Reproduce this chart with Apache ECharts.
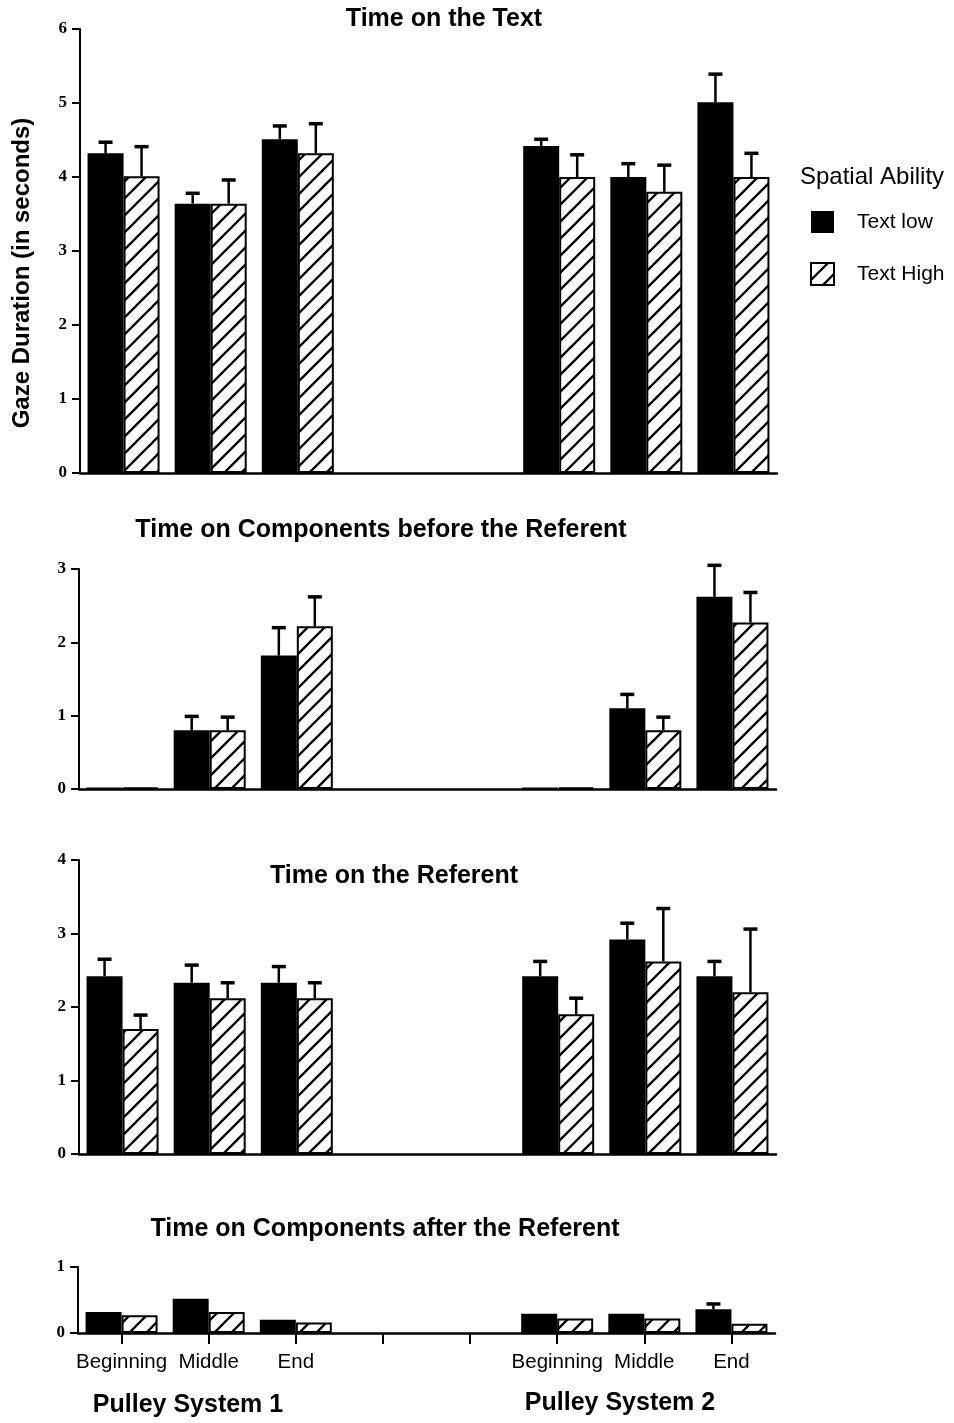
<!DOCTYPE html>
<html>
<head>
<meta charset="utf-8">
<script src="https://cdn.jsdelivr.net/npm/echarts@6/dist/echarts.min.js"></script>
<style>
  html, body { margin: 0; padding: 0; background: #fff; }
  #chart { width: 954px; height: 1423px; }
</style>
</head>
<body>
<div id="chart"></div>
<script>
// Positions along the axis: three text positions for each pulley system, two empty slots between
const categories = ['Beginning', 'Middle', 'End', '', ' ', 'Beginning', 'Middle', 'End'];
const seriesNames = ['Text low', 'Text High'];
const panelTitles = [
  'Time on the Text',
  'Time on Components before the Referent',
  'Time on the Referent',
  'Time on Components after the Referent'
];
const yMax = [6, 3, 4, 1];

// Time on the Text
const textLow      = [4.32, 3.64, 4.51, null, null, 4.42, 4.00, 5.01];
const textLowErr   = [0.15, 0.14, 0.18, null, null, 0.09, 0.18, 0.38];
const textHigh     = [4.01, 3.64, 4.32, null, null, 4.00, 3.80, 4.00];
const textHighErr  = [0.40, 0.32, 0.40, null, null, 0.30, 0.36, 0.32];

// Time on Components before the Referent
const beforeLow     = [0.02, 0.80, 1.82, null, null, 0.02, 1.10, 2.62];
const beforeLowErr  = [0,    0.19, 0.38, null, null, 0,    0.19, 0.43];
const beforeHigh    = [0.02, 0.80, 2.22, null, null, 0.02, 0.80, 2.27];
const beforeHighErr = [0,    0.18, 0.40, null, null, 0,    0.18, 0.41];

// Time on the Referent
const refLow      = [2.42, 2.33, 2.33, null, null, 2.42, 2.92, 2.42];
const refLowErr   = [0.23, 0.24, 0.22, null, null, 0.20, 0.22, 0.20];
const refHigh     = [1.70, 2.12, 2.12, null, null, 1.90, 2.62, 2.20];
const refHighErr  = [0.19, 0.21, 0.21, null, null, 0.22, 0.72, 0.86];

// Time on Components after the Referent
const afterLow     = [0.32, 0.52, 0.20, null, null, 0.29, 0.29, 0.36];
const afterLowErr  = [0,    0,    0,    null, null, 0,    0,    0.08];
const afterHigh    = [0.27, 0.32, 0.16, null, null, 0.22, 0.22, 0.14];
const afterHighErr = [0,    0,    0,    null, null, 0,    0,    0];

const panels = [
  { low: textLow,   lowErr: textLowErr,   high: textHigh,   highErr: textHighErr },
  { low: beforeLow, lowErr: beforeLowErr, high: beforeHigh, highErr: beforeHighErr },
  { low: refLow,    lowErr: refLowErr,    high: refHigh,    highErr: refHighErr },
  { low: afterLow,  lowErr: afterLowErr,  high: afterHigh,  highErr: afterHighErr }
];

// Layout of the four stacked plots
const grids = [
  { left: 80, top: 29,   width: 697, height: 444 },
  { left: 79, top: 569,  width: 697, height: 220 },
  { left: 79, top: 860,  width: 697, height: 294 },
  { left: 78, top: 1267, width: 697, height: 66 }
];
const BAR_W = 36;
const CAP_W = 14;
const SANS = '"Liberation Sans", Arial, Helvetica, sans-serif';
const SERIF = '"Liberation Serif", "Times New Roman", serif';

// Diagonal hatching used for the high-ability bars
function makeHatch() {
  const s = 17;
  const c = document.createElement('canvas');
  c.width = s; c.height = s;
  const g = c.getContext('2d');
  g.fillStyle = '#fff';
  g.fillRect(0, 0, s, s);
  g.strokeStyle = '#000';
  g.lineWidth = 2.3;
  g.beginPath();
  g.moveTo(-2, s + 2); g.lineTo(s + 2, -2);
  g.moveTo(-2, 2); g.lineTo(2, -2);
  g.moveTo(s - 2, s + 2); g.lineTo(s + 2, s - 2);
  g.stroke();
  return c;
}
const hatchFill = { image: makeHatch(), repeat: 'repeat' };

function errorBars(axisIdx, vals, errs, side) {
  return {
    type: 'custom',
    xAxisIndex: axisIdx,
    yAxisIndex: axisIdx,
    z: 5,
    silent: true,
    data: vals.map((v, i) => [i, v, errs[i]]).filter(d => d[1] != null && d[2] > 0),
    renderItem: function (params, api) {
      const base = api.coord([api.value(0), api.value(1)]);
      const top = api.coord([api.value(0), api.value(1) + api.value(2)]);
      const x = base[0] + side * BAR_W / 2;
      return {
        type: 'group',
        children: [
          { type: 'line', shape: { x1: x, y1: base[1], x2: x, y2: top[1] },
            style: { stroke: '#000', lineWidth: 2.5 } },
          { type: 'line', shape: { x1: x - CAP_W / 2, y1: top[1], x2: x + CAP_W / 2, y2: top[1] },
            style: { stroke: '#000', lineWidth: 3.5 } }
        ]
      };
    }
  };
}

const xAxes = [], yAxes = [], series = [];
panels.forEach((p, i) => {
  const last = i === panels.length - 1;
  xAxes.push({
    type: 'category',
    gridIndex: i,
    data: categories,
    boundaryGap: true,
    axisLine: { show: true, lineStyle: { color: '#000', width: 2.5 } },
    axisTick: { show: last, alignWithLabel: true, length: 11, lineStyle: { color: '#000', width: 2 } },
    axisLabel: { show: last, interval: 0, margin: 19, color: '#000', fontFamily: SANS, fontSize: 20.5 },
    splitLine: { show: false }
  });
  yAxes.push({
    type: 'value',
    gridIndex: i,
    min: 0,
    max: yMax[i],
    interval: 1,
    axisLine: { show: true, lineStyle: { color: '#000', width: 2 } },
    axisTick: { show: true, length: 8, lineStyle: { color: '#000', width: 2 } },
    axisLabel: { margin: 13, color: '#000', fontFamily: SERIF, fontWeight: 'bold', fontSize: 17 },
    splitLine: { show: false }
  });
  series.push({
    type: 'bar',
    name: seriesNames[0],
    xAxisIndex: i,
    yAxisIndex: i,
    data: p.low,
    barWidth: BAR_W,
    barGap: '0%',
    itemStyle: { color: '#000', borderColor: '#000', borderWidth: 0 },
    emphasis: { disabled: true }
  });
  series.push({
    type: 'bar',
    name: seriesNames[1],
    xAxisIndex: i,
    yAxisIndex: i,
    data: p.high,
    barWidth: BAR_W,
    barGap: '0%',
    itemStyle: { color: hatchFill, borderColor: '#000', borderWidth: 2 },
    emphasis: { disabled: true }
  });
  series.push(errorBars(i, p.low, p.lowErr, -1));
  series.push(errorBars(i, p.high, p.highErr, 1));
});

const titleCenters = [[444, 19], [381, 530], [394, 876], [385, 1229]];
const graphics = panelTitles.map((t, i) => ({
  type: 'text',
  x: titleCenters[i][0],
  y: titleCenters[i][1],
  style: { text: t, fill: '#000', font: 'bold 25px ' + SANS, align: 'center', verticalAlign: 'middle' }
}));
graphics.push({
  type: 'text', x: 22, y: 273, rotation: Math.PI / 2,
  style: { text: 'Gaze Duration (in seconds)', fill: '#000', font: 'bold 24px ' + SANS,
           align: 'center', verticalAlign: 'middle' }
});
graphics.push({
  type: 'text', x: 800, y: 177,
  style: { text: 'Spatial Ability', fill: '#000', font: '24px ' + SANS, align: 'left', verticalAlign: 'middle' }
});
graphics.push({
  type: 'text', x: 188, y: 1405,
  style: { text: 'Pulley System 1', fill: '#000', font: 'bold 25px ' + SANS, align: 'center', verticalAlign: 'middle' }
});
graphics.push({
  type: 'text', x: 620, y: 1403,
  style: { text: 'Pulley System 2', fill: '#000', font: 'bold 25px ' + SANS, align: 'center', verticalAlign: 'middle' }
});

const chart = echarts.init(document.getElementById('chart'), null, { renderer: 'canvas' });
chart.setOption({
  animation: false,
  backgroundColor: '#fff',
  grid: grids,
  xAxis: xAxes,
  yAxis: yAxes,
  legend: {
    data: seriesNames,
    orient: 'vertical',
    left: 805,
    top: 206,
    itemWidth: 23,
    itemHeight: 22,
    itemGap: 29,
    icon: 'rect',
    selectedMode: false,
    textStyle: { color: '#000', fontFamily: SANS, fontSize: 21, padding: [0, 0, 0, 18] }
  },
  series: series,
  graphic: graphics
});
</script>
</body>
</html>
